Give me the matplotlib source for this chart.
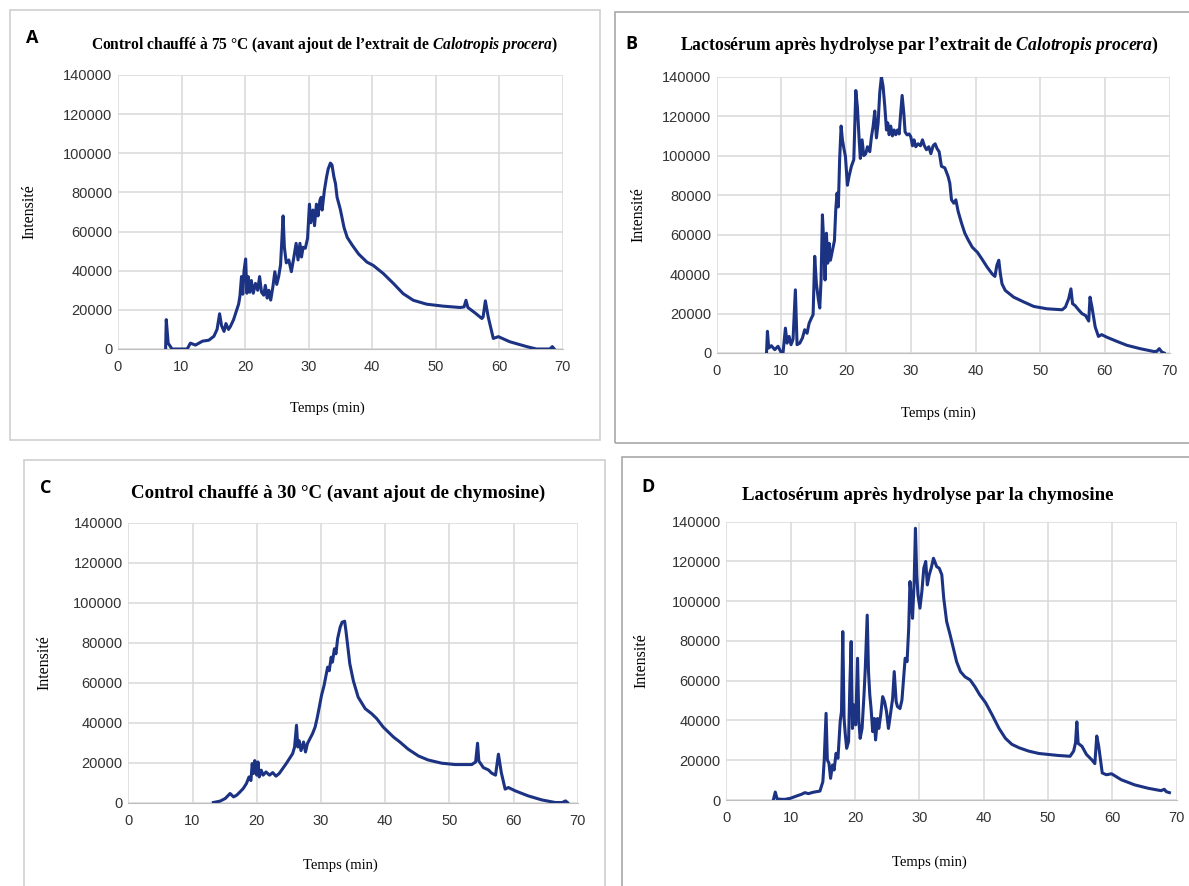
import matplotlib.pyplot as plt
from matplotlib.patches import Rectangle

plt.rcParams['mathtext.fontset'] = 'custom'
plt.rcParams['mathtext.it'] = 'Liberation Serif:italic:bold'
plt.rcParams['mathtext.rm'] = 'Liberation Serif:bold'

a_points = [(7.5, 0), (7.6, 15000), (7.9, 3000), (8.5, 0), (10.9, 0), (11.4, 3000), (12.2, 2000),
            (13.3, 4000), (14.3, 4500), (15.1, 6500), (15.6, 10000), (16.0, 18000), (16.3, 12000),
            (16.7, 9000), (17.0, 13000), (17.4, 10000), (17.7, 11500), (18.2, 15000), (18.6, 19000),
            (19.0, 23000), (19.2, 27000), (19.45, 37000), (19.65, 28000), (19.85, 40000), (20.1, 46000),
            (20.3, 28500), (20.5, 37000), (20.75, 29000), (21.0, 35000), (21.3, 28500), (21.65, 33500),
            (22.0, 30000), (22.3, 37000), (22.6, 29000), (22.95, 27500), (23.2, 32500), (23.5, 26000),
            (23.75, 30000), (24.05, 25000), (24.4, 32000), (24.7, 39500), (25.0, 33000), (25.3, 37000),
            (25.6, 43000), (26.0, 68000), (26.2, 52000), (26.5, 44000), (26.9, 45500), (27.3, 39500),
            (27.7, 47000), (28.05, 54000), (28.35, 45500), (28.65, 54000), (28.9, 47000), (29.15, 52000),
            (29.5, 51500), (29.85, 56500), (30.15, 74000), (30.35, 64500), (30.7, 71000), (30.95, 63000),
            (31.25, 74000), (31.5, 68000), (31.8, 76000), (32.0, 77500), (32.15, 71000), (32.5, 81000),
            (32.85, 88000), (33.1, 92000), (33.45, 95000), (33.7, 94000), (34.0, 88000), (34.25, 84500),
            (34.5, 77500), (35.0, 71500), (35.6, 62000), (36.1, 57000), (36.9, 53000), (37.9, 48500),
            (39.2, 44400), (40.2, 42700), (41.8, 38500), (43.4, 33400), (44.9, 28300), (46.5, 24900),
            (48.6, 22900), (51.2, 21900), (53.9, 21200), (54.5, 21500), (54.8, 24900), (55.1, 21200),
            (56.2, 18500), (57.3, 15600), (57.5, 16400), (57.85, 24600), (58.3, 16400), (59.1, 5400),
            (59.9, 6300), (61.7, 3700), (64.4, 1200), (65.9, 0), (68.0, 0), (68.4, 1200), (68.7, 0)]

b_points = [(7.7, 0), (7.84, 11000), (8.04, 2500), (8.45, 3700), (8.97, 1700), (9.48, 3400), (10.0, 0),
            (10.26, 300), (10.62, 12600), (10.88, 5000), (11.19, 8400), (11.49, 4200), (11.8, 7000),
            (12.16, 32000), (12.42, 4200), (12.84, 5000), (13.25, 7600), (13.6, 11800), (13.97, 10000),
            (14.28, 15000), (14.64, 17700), (14.9, 19400), (15.15, 49000), (15.41, 35000), (15.72, 27000),
            (15.93, 22800), (16.13, 37000), (16.34, 70000), (16.55, 55600), (16.75, 37000), (16.96, 60700),
            (17.16, 45500), (17.37, 55600), (17.58, 47000), (17.89, 52000), (18.2, 57000), (18.4, 72500),
            (18.6, 81000), (18.8, 74000), (19.0, 98000), (19.23, 115000), (19.43, 108000), (19.64, 104000),
            (19.9, 99500), (20.2, 85000), (20.46, 89600), (20.82, 94600), (21.19, 98000), (21.5, 133000),
            (21.75, 124500), (22.0, 109000), (22.2, 98600), (22.47, 108000), (22.73, 100000), (23.04, 101000),
            (23.3, 104500), (23.66, 102000), (23.92, 109600), (24.18, 115000), (24.43, 122600), (24.69, 109000),
            (24.95, 116600), (25.2, 132000), (25.46, 140000), (25.72, 135000), (25.98, 125000), (26.24, 113000),
            (26.44, 116600), (26.65, 110600), (26.9, 115000), (27.16, 110000), (27.42, 113000), (27.68, 110600),
            (27.94, 113000), (28.2, 111000), (28.4, 120000), (28.66, 130500), (28.92, 121500), (29.12, 112000),
            (29.43, 110500), (29.74, 111000), (30.0, 109600), (30.26, 105000), (30.5, 108000), (30.77, 104500),
            (31.13, 106000), (31.5, 105000), (31.8, 108000), (32.1, 105000), (32.42, 103000), (32.78, 104500),
            (33.1, 101000), (33.45, 105000), (33.76, 106000), (34.07, 103500), (34.38, 102000), (34.74, 94600),
            (35.26, 93800), (35.77, 89400), (36.03, 86000), (36.29, 77600), (36.65, 75900), (36.96, 77600),
            (37.32, 71700), (37.84, 65800), (38.35, 60700), (38.87, 57300), (39.5, 53600), (40.3, 51000),
            (41.0, 47600), (41.8, 43500), (42.6, 40000), (43.0, 38800), (43.3, 44400), (43.6, 47000),
            (43.85, 40000), (44.1, 35000), (44.6, 31700), (45.9, 28300), (47.5, 25800), (49.0, 23600),
            (51.05, 22400), (53.4, 21900), (53.9, 23300), (54.4, 27500), (54.75, 32500), (55.0, 25000),
            (55.4, 24000), (55.9, 22000), (56.45, 20000), (57.0, 19000), (57.5, 16200), (57.7, 28300),
            (58.0, 23300), (58.5, 13200), (59.0, 8400), (59.5, 9300), (60.3, 8000), (61.85, 5900),
            (63.4, 3900), (65.45, 2200), (67.5, 800), (68.0, 800), (68.4, 2200), (68.8, 500), (69.15, 0)]

c_points = [(13.25, 0), (14.3, 700), (15.1, 2000), (15.85, 4500), (16.4, 2800), (16.9, 3700), (17.4, 5300),
            (17.9, 7000), (18.4, 9500), (18.8, 12800), (19.1, 11000), (19.3, 19500), (19.5, 14500),
            (19.7, 21000), (20.0, 13700), (20.2, 20300), (20.4, 12800), (20.7, 16200), (21.0, 13700),
            (21.45, 15300), (22.0, 13700), (22.5, 15000), (23.0, 13200), (23.5, 14500), (24.05, 17000),
            (24.6, 19500), (25.1, 22000), (25.6, 24500), (25.9, 27800), (26.2, 38700), (26.4, 27800),
            (26.6, 31000), (26.9, 26000), (27.3, 30300), (27.6, 25300), (27.9, 29500), (28.3, 32000),
            (28.7, 34500), (29.1, 37800), (29.45, 42800), (29.75, 47800), (30.1, 53700), (30.5, 58700),
            (30.8, 63700), (31.05, 67800), (31.3, 66000), (31.6, 72800), (31.8, 70300), (32.1, 77000),
            (32.35, 74500), (32.6, 82000), (33.0, 87800), (33.3, 90300), (33.7, 90800), (33.9, 86000),
            (34.2, 77800), (34.5, 69500), (35.05, 61000), (35.8, 52800), (36.9, 47000), (37.9, 44500),
            (38.7, 42000), (39.7, 37800), (41.3, 32800), (42.3, 30300), (43.6, 26700), (45.2, 23300),
            (46.7, 21300), (48.8, 19700), (50.9, 19000), (53.5, 19000), (54.1, 20300), (54.4, 29700),
            (54.6, 20800), (55.3, 17500), (56.1, 16300), (56.6, 14700), (57.2, 13700), (57.65, 24200),
            (58.1, 15000), (58.7, 6700), (59.2, 7500), (60.3, 5800), (62.3, 3300), (64.4, 1300),
            (66.5, 0), (67.6, 0), (68.1, 800), (68.4, 0)]

d_points = [(7.3, 0), (7.6, 4000), (7.9, 500), (9.0, 300), (9.9, 800), (10.9, 2000), (11.7, 2900),
            (12.2, 3700), (12.75, 3200), (13.5, 3900), (14.55, 4500), (15.0, 9200), (15.2, 19300),
            (15.5, 43600), (15.7, 20100), (15.95, 18500), (16.2, 10900), (16.5, 17600), (16.75, 15100),
            (17.05, 23500), (17.35, 21000), (17.7, 39600), (17.9, 44600), (18.1, 84700), (18.3, 41000),
            (18.5, 32700), (18.7, 26000), (19.0, 29400), (19.2, 57900), (19.4, 79700), (19.6, 36000),
            (19.85, 47800), (20.1, 37800), (20.4, 71300), (20.6, 39600), (20.8, 31000), (21.1, 36000),
            (21.4, 52900), (21.6, 66300), (21.9, 93000), (22.1, 64600), (22.3, 52900), (22.5, 46000),
            (22.75, 34400), (23.0, 41000), (23.2, 30200), (23.5, 41000), (23.7, 36000), (24.0, 42800),
            (24.3, 52000), (24.6, 49500), (24.9, 44500), (25.2, 36000), (25.5, 42800), (25.85, 51000),
            (26.1, 64600), (26.4, 49500), (26.6, 47000), (27.0, 46000), (27.3, 50300), (27.6, 62900),
            (27.8, 71300), (28.1, 69600), (28.35, 86400), (28.55, 109900), (28.75, 101500), (28.95, 91400),
            (29.2, 109900), (29.4, 136700), (29.6, 113300), (29.8, 103000), (30.1, 96500), (30.4, 104900),
            (30.7, 116600), (31.0, 120000), (31.25, 108200), (31.55, 113300), (31.85, 116600), (32.2, 121600),
            (32.4, 120000), (32.7, 117400), (33.1, 116600), (33.5, 113300), (33.8, 101500), (34.25, 89800),
            (34.8, 83000), (35.3, 76300), (35.8, 69600), (36.4, 64600), (37.1, 62000), (37.9, 60400),
            (38.65, 57000), (39.4, 52900), (40.3, 49000), (41.3, 43000), (42.4, 36000), (43.4, 31000),
            (44.4, 28000), (45.5, 26300), (47.0, 24600), (48.6, 23400), (50.1, 22900), (51.6, 22400),
            (53.45, 22000), (54.0, 24600), (54.3, 28800), (54.5, 39300), (54.7, 28500), (55.3, 27000),
            (56.0, 22900), (56.8, 20300), (57.3, 18300), (57.6, 32200), (57.9, 27100), (58.45, 13600),
            (59.1, 12700), (59.9, 13200), (61.4, 10200), (63.5, 7600), (65.6, 5900), (67.6, 4700),
            (68.1, 5400), (68.4, 4200), (68.9, 3700)]

x_ticks = [0, 10, 20, 30, 40, 50, 60, 70]
y_ticks = [0, 20000, 40000, 60000, 80000, 100000, 120000, 140000]

title_a = "Control chauffé à 75 °C (avant ajout de l’extrait de $Calotropis\\ procera$)"
title_b = "Lactosérum après hydrolyse par l’extrait de $Calotropis\\ procera$)"
title_c = "Control chauffé à 30 °C (avant ajout de chymosine)"
title_d = "Lactosérum après hydrolyse par la chymosine"

W, H = 1189.0, 886.0
fig = plt.figure(figsize=(11.89, 8.86), dpi=100)

# cadres gris autour des panneaux (pixels : gauche, haut, droite, bas)
for (l, t, r, b), col in [((10, 10, 600, 440), '#cfcfcf'), ((615, 12, 1195, 443), '#a8a8a8'),
                          ((24, 460, 605, 895), '#cfcfcf'), ((622, 457, 1195, 895), '#a8a8a8')]:
    fig.patches.append(Rectangle((l / W, 1 - b / H), (r - l) / W, (b - t) / H, transform=fig.transFigure,
                                 fill=False, edgecolor=col, lw=1.2))

# x0, x70, y140000, y0 en pixels ; positions des titres et étiquettes
panels = [
    dict(pts=a_points, box=(118, 562.5, 75, 349), letter='A', lpos=(32, 38),
         title=title_a, tpos=(325, 45), tsize=11.2, tha='center', ylab=-0.182, xlab=(0.47, -0.19)),
    dict(pts=b_points, box=(716.7, 1169.6, 76.7, 353), letter='B', lpos=(631, 44),
         title=title_b, tpos=(680, 45), tsize=12.7, tha='left', ylab=-0.155, xlab=(0.49, -0.195)),
    dict(pts=c_points, box=(128.3, 577.7, 523, 802.5), letter='C', lpos=(46, 488),
         title=title_c, tpos=(338, 493), tsize=13.6, tha='center', ylab=-0.168, xlab=(0.472, -0.2)),
    dict(pts=d_points, box=(726.4, 1176.5, 521.7, 800), letter='D', lpos=(648, 487),
         title=title_d, tpos=(928, 495), tsize=13.6, tha='center', ylab=-0.17, xlab=(0.452, -0.198)),
]

for p in panels:
    x0, x1, ytop, ybot = p['box']
    ax = fig.add_axes([x0 / W, 1 - ybot / H, (x1 - x0) / W, (ybot - ytop) / H])
    t = [q[0] for q in p['pts']]
    v = [q[1] for q in p['pts']]
    ax.plot(t, v, color='#1c3283', lw=2.2, solid_joinstyle='round', zorder=3)
    ax.set_xlim(0, 70)
    ax.set_ylim(0, 140000)
    ax.set_xticks(x_ticks)
    ax.set_yticks(y_ticks)
    ax.grid(True, color='#d9d9d9', lw=1.1)
    ax.set_axisbelow(True)
    for s in ax.spines.values():
        s.set_visible(False)
    ax.spines['bottom'].set_visible(True)
    ax.spines['bottom'].set_color('#bfbfbf')
    ax.tick_params(length=0, labelsize=10.5, labelcolor='#333333', pad=8)
    ax.tick_params(axis='y', pad=4)
    for lab in ax.get_xticklabels() + ax.get_yticklabels():
        lab.set_family('Liberation Sans')
    ax.set_ylabel('Intensité', family='Liberation Serif', fontsize=11.5)
    ax.yaxis.set_label_coords(p['ylab'], 0.5)
    ax.set_xlabel('Temps (min)', family='Liberation Serif', fontsize=10.5)
    ax.xaxis.set_label_coords(*p['xlab'])

    fig.text(p['tpos'][0] / W, 1 - p['tpos'][1] / H, p['title'], ha=p['tha'], va='center',
             family='Liberation Serif', weight='bold', fontsize=p['tsize'])
    fig.text(p['lpos'][0] / W, 1 - p['lpos'][1] / H, p['letter'], ha='center', va='center',
             family='Open Sans', weight='bold', fontsize=13)

fig.savefig('out.png', dpi=100)
